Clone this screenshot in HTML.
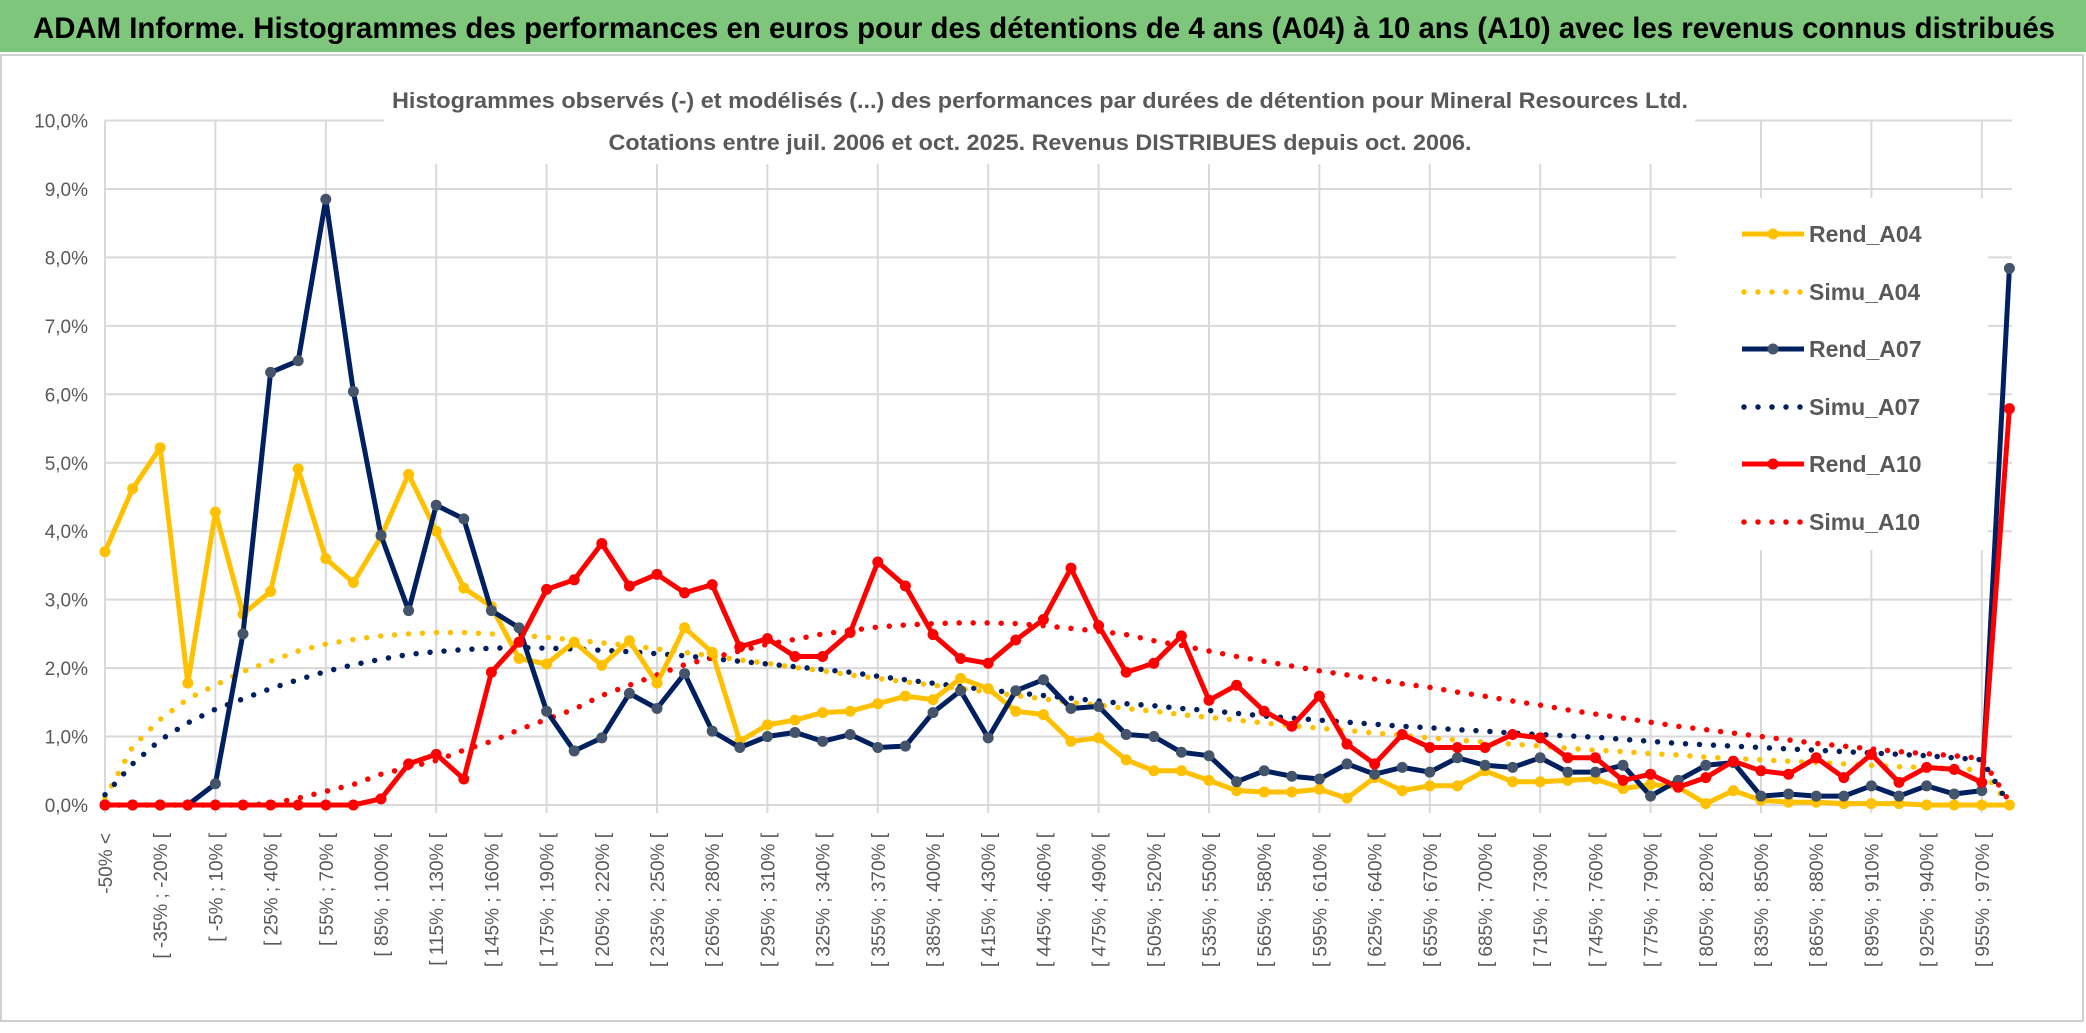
<!DOCTYPE html>
<html><head><meta charset="utf-8"><style>
html,body{margin:0;padding:0;background:#fff;}
svg{display:block;font-family:"Liberation Sans",sans-serif;}
</style></head><body>
<svg id="c" width="2086" height="1033" viewBox="0 0 2086 1033" xmlns="http://www.w3.org/2000/svg">
<rect x="0" y="0" width="2086" height="1033" fill="#fff"/>
<rect x="0" y="0" width="2086" height="52" fill="#7dc67c"/>
<text x="33" y="38" font-size="30" font-weight="bold" fill="#000" textLength="2022" lengthAdjust="spacingAndGlyphs">ADAM Informe. Histogrammes des performances en euros pour des détentions de 4 ans (A04) à 10 ans (A10) avec les revenus connus distribués</text>
<rect x="1" y="55" width="2082" height="966" fill="none" stroke="#d0d0d0" stroke-width="2"/>
<g id="grid"></g>
<rect x="384" y="60" width="1311" height="104" fill="#fff"/>
<text x="1040" y="108" font-size="22" font-weight="bold" fill="#595959" text-anchor="middle" textLength="1296" lengthAdjust="spacingAndGlyphs">Histogrammes observés (-) et modélisés (...) des performances par durées de détention pour Mineral Resources Ltd.</text>
<text x="1040" y="150" font-size="22" font-weight="bold" fill="#595959" text-anchor="middle" textLength="863" lengthAdjust="spacingAndGlyphs">Cotations entre juil. 2006 et oct. 2025. Revenus DISTRIBUES depuis oct. 2006.</text>
<g id="yaxis"></g>
<g id="xaxis"></g>
<g id="series"></g>
<g id="legend"></g>
</svg>
<script>
const rendA04=[3.7,4.62,5.22,1.78,4.28,2.79,3.12,4.91,3.6,3.25,3.92,4.83,4.0,3.17,2.9,2.14,2.06,2.38,2.04,2.4,1.78,2.59,2.23,0.93,1.17,1.24,1.35,1.37,1.48,1.59,1.54,1.85,1.7,1.37,1.32,0.93,0.98,0.66,0.5,0.5,0.36,0.21,0.19,0.19,0.23,0.1,0.4,0.21,0.28,0.28,0.5,0.34,0.34,0.36,0.38,0.24,0.3,0.26,0.02,0.21,0.07,0.04,0.04,0.02,0.02,0.02,0,0,0,0];
const rendA07=[0,0,0,0,0.31,2.5,6.32,6.49,8.85,6.04,3.94,2.84,4.38,4.18,2.84,2.59,1.37,0.79,0.98,1.63,1.41,1.92,1.08,0.84,1.0,1.06,0.93,1.03,0.84,0.86,1.35,1.67,0.98,1.67,1.83,1.41,1.44,1.03,1.0,0.77,0.72,0.34,0.5,0.42,0.38,0.6,0.45,0.55,0.48,0.69,0.58,0.55,0.69,0.48,0.48,0.58,0.13,0.36,0.58,0.62,0.13,0.16,0.13,0.13,0.28,0.13,0.28,0.16,0.21,7.84];
const rendA10=[0,0,0,0,0,0,0,0,0,0,0.09,0.6,0.74,0.38,1.94,2.38,3.15,3.29,3.82,3.2,3.37,3.1,3.22,2.31,2.43,2.17,2.17,2.52,3.55,3.2,2.49,2.14,2.07,2.41,2.71,3.46,2.62,1.94,2.07,2.47,1.53,1.75,1.37,1.15,1.59,0.89,0.6,1.03,0.84,0.84,0.84,1.03,0.98,0.69,0.69,0.36,0.45,0.26,0.4,0.64,0.5,0.45,0.69,0.4,0.74,0.33,0.55,0.52,0.33,5.79];
const simuA04=[0.1,0.85,1.25,1.55,1.75,1.95,2.1,2.25,2.35,2.42,2.47,2.5,2.52,2.52,2.5,2.48,2.45,2.41,2.37,2.33,2.28,2.23,2.18,2.12,2.07,2.01,1.96,1.9,1.85,1.8,1.75,1.7,1.65,1.6,1.55,1.5,1.46,1.41,1.37,1.32,1.28,1.24,1.2,1.16,1.12,1.09,1.05,1.02,0.98,0.95,0.92,0.89,0.86,0.83,0.8,0.78,0.75,0.73,0.7,0.68,0.66,0.64,0.62,0.6,0.58,0.56,0.55,0.53,0.51,0.0];
const simuA07=[0.15,0.6,0.95,1.2,1.4,1.55,1.7,1.83,1.95,2.05,2.13,2.2,2.24,2.27,2.29,2.3,2.29,2.28,2.26,2.24,2.21,2.18,2.14,2.1,2.06,2.02,1.98,1.94,1.88,1.83,1.78,1.73,1.68,1.64,1.6,1.56,1.52,1.48,1.45,1.41,1.38,1.34,1.3,1.27,1.24,1.21,1.18,1.15,1.13,1.1,1.08,1.05,1.03,1.01,0.99,0.96,0.93,0.9,0.88,0.86,0.84,0.82,0.8,0.78,0.76,0.74,0.72,0.69,0.66,0.0];
const simuA10=[0,0,0,0,0,0,0.02,0.1,0.2,0.3,0.45,0.55,0.65,0.8,0.93,1.1,1.25,1.4,1.6,1.75,1.9,2.05,2.15,2.25,2.35,2.42,2.5,2.55,2.6,2.63,2.65,2.66,2.66,2.65,2.62,2.58,2.54,2.49,2.4,2.33,2.25,2.17,2.1,2.03,1.96,1.9,1.84,1.77,1.72,1.65,1.59,1.52,1.46,1.39,1.33,1.27,1.21,1.15,1.1,1.05,1.0,0.95,0.9,0.86,0.82,0.78,0.75,0.72,0.68,0.05];
const yTicks=[0,1,2,3,4,5,6,7,8,9,10];
const xLabels=[];
xLabels.push('-50% <');
for(let i=1;i<70;i++){const lo=-50+15*(i-1);xLabels.push('[ '+lo+'% ; '+(lo+15)+'% [');}

const NS='http://www.w3.org/2000/svg';
const X0=105,XSTEP=27.6,Y0=805,YPER=68.45;
const xs=i=>X0+i*XSTEP, ys=v=>Y0-v*YPER;
function mk(tag,attrs,parent){const e=document.createElementNS(NS,tag);for(const k in attrs)e.setAttribute(k,attrs[k]);parent.appendChild(e);return e;}
const grid=document.getElementById('grid'),yax=document.getElementById('yaxis'),xax=document.getElementById('xaxis'),ser=document.getElementById('series'),leg=document.getElementById('legend');
yTicks.forEach(t=>{
  const l=mk('line',{x1:X0,x2:2012,y1:ys(t),y2:ys(t),stroke:'#d9d9d9','stroke-width':2},grid);
  
  
  const tx=mk('text',{x:88,y:ys(t)+7,'font-size':19,fill:'#595959','text-anchor':'end'},yax);
  tx.textContent=t.toFixed(1).replace('.',',')+'%';
  
  
});
for(let i=0;i<70;i+=4){
  const l=mk('line',{x1:xs(i),x2:xs(i),y1:ys(10),y2:ys(0)+8,stroke:'#d9d9d9','stroke-width':2},grid);
  
  
}
for(let i=0;i<70;i+=2){
  const x=xs(i)+7,y=833;
  const tx=mk('text',{x:x,y:y,'font-size':19,fill:'#595959','text-anchor':'end',transform:`rotate(-90 ${x} ${y})`},xax);
  tx.textContent=xLabels[i];
  
  
}
function pts(arr){return arr.map((v,i)=>xs(i).toFixed(1)+','+ys(v).toFixed(1)).join(' ');}
function dotted(arr,color,name){
  const p=mk('polyline',{points:pts(arr),fill:'none',stroke:color,'stroke-width':5.5,'stroke-linecap':'round','stroke-dasharray':'0 14'},ser);
  
  
}
function solid(arr,color,mcolor,name){
  const p=mk('polyline',{points:pts(arr),fill:'none',stroke:color,'stroke-width':5,'stroke-linejoin':'round'},ser);
  
  
  arr.forEach((v,i)=>{
    const c=mk('circle',{cx:xs(i),cy:ys(v),r:5.5,fill:mcolor},ser);
    
    
  });
}
dotted(simuA04,'#ffc000','simu-a04-line');
dotted(simuA07,'#002060','simu-a07-line');
dotted(simuA10,'#ff0000','simu-a10-line');
solid(rendA04,'#ffc000','#ffc000','rend-a04-line');
solid(rendA07,'#002060','#44546a','rend-a07-line');
solid(rendA10,'#ff0000','#ff0000','rend-a10-line');
// legend
const lb=mk('rect',{x:1676,y:198,width:312,height:352,fill:'#fff'},leg);


const entries=[['Rend_A04','#ffc000','#ffc000',false],['Simu_A04','#ffc000','',true],['Rend_A07','#002060','#44546a',false],['Simu_A07','#002060','',true],['Rend_A10','#ff0000','#ff0000',false],['Simu_A10','#ff0000','',true]];
const rowY=[234,292,349,407,464,522];
entries.forEach((e,k)=>{
  const y=rowY[k];
  const g=mk('g',{},leg);
  
  
  if(e[3]){mk('line',{x1:1744,x2:1802,y1:y,y2:y,stroke:e[1],'stroke-width':5.5,'stroke-linecap':'round','stroke-dasharray':'0 14'},g);}
  else{mk('line',{x1:1742,x2:1804,y1:y,y2:y,stroke:e[1],'stroke-width':5},g);mk('circle',{cx:1773,cy:y,r:5.5,fill:e[2]},g);}
  const t=mk('text',{x:1809,y:y+8,'font-size':23,'font-weight':'bold',fill:'#595959'},g);
  t.textContent=e[0];
});
</script>
</body></html>
